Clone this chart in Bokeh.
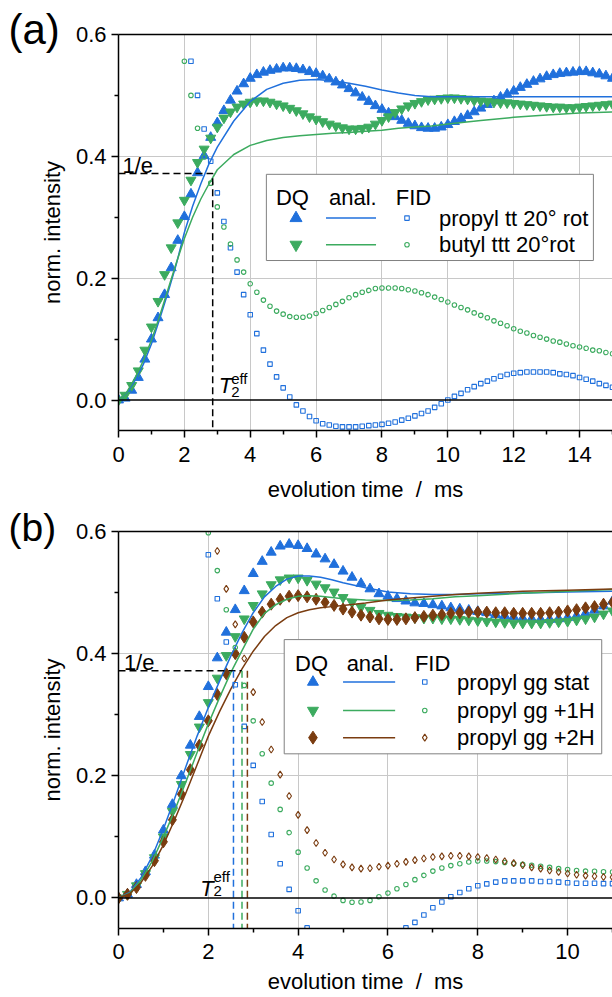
import numpy as np
from bokeh.plotting import figure
from bokeh.models import LinearAxis, FixedTicker, PrintfTickFormatter, Span, Label, Range1d
from bokeh.layouts import column
from bokeh.embed import file_html
from bokeh.resources import INLINE
from bokeh.core.properties import value

FONT = "Liberation Sans"
BLUE = "#2070dc"
GREEN = "#3cab5f"
BROWN = "#7a3c10"
GRID = "#c8c8c8"


def grid_times(start, stop, step=0.2):
    n = int(round((stop - start) / step)) + 1
    return [round(start + i * step, 1) for i in range(n)]


def arr(v):
    return np.array([np.nan if a is None else a for a in v], dtype=float)


# ---------------- panel (a) data ----------------
a_dq_t = grid_times(0.0, 15.0)
a_dq_propyl = [
    0.000, 0.003, 0.016, 0.037, 0.067, 0.100, 0.135, 0.173, 0.217, 0.262,
    0.301, 0.338, 0.373, 0.401, 0.431, 0.455, 0.475, 0.492, 0.507, 0.519,
    0.528, 0.534, 0.538, 0.541, 0.543, 0.545, 0.545, 0.544, 0.542, 0.539,
    0.536, 0.532, 0.527, 0.522, 0.517, 0.511, 0.504, 0.497, 0.490, 0.483,
    0.477, 0.471, 0.465, 0.459, 0.454, 0.450, 0.447, 0.446, 0.446, 0.448,
    0.452, 0.457, 0.462, 0.467, 0.473, 0.479, 0.485, 0.491, 0.497, 0.502,
    0.507, 0.513, 0.518, 0.523, 0.527, 0.531, 0.534, 0.536, 0.537, 0.538,
    0.539, 0.539, 0.537, 0.535, 0.532, 0.528]
a_dq_butyl = [
    0.000, 0.008, 0.024, 0.048, 0.082, 0.120, 0.162, 0.206, 0.250, 0.291,
    0.328, 0.361, 0.390, 0.412, 0.430, 0.448, 0.463, 0.473, 0.481, 0.486,
    0.489, 0.491, 0.491, 0.489, 0.486, 0.483, 0.479, 0.475, 0.470, 0.465,
    0.461, 0.457, 0.453, 0.450, 0.447, 0.445, 0.445, 0.446, 0.448, 0.453,
    0.459, 0.465, 0.472, 0.478, 0.483, 0.487, 0.490, 0.493, 0.494, 0.495,
    0.496, 0.496, 0.495, 0.494, 0.492, 0.491, 0.490, 0.489, 0.488, 0.488,
    0.487, 0.486, 0.485, 0.484, 0.483, 0.482, 0.481, 0.481, 0.480, 0.480,
    0.481, 0.482, 0.483, 0.484, 0.485, 0.486]

a_anal_t = [0, 0.25, 0.5, 0.75, 1, 1.25, 1.5, 1.75, 2, 2.25, 2.5, 2.75, 3, 3.5, 4, 4.5,
            5, 5.5, 6, 6.5, 7, 7.5, 8, 8.5, 9, 9.5, 10, 11, 12, 13, 14, 15]
a_anal_propyl = [0, 0.012, 0.032, 0.058, 0.092, 0.133, 0.176, 0.222, 0.275, 0.318, 0.355,
                 0.388, 0.415, 0.458, 0.490, 0.510, 0.520, 0.525, 0.526, 0.524, 0.520,
                 0.515, 0.509, 0.504, 0.500, 0.498, 0.498, 0.498, 0.498, 0.498, 0.498, 0.498]
a_anal_butyl = [0, 0.013, 0.036, 0.064, 0.098, 0.138, 0.181, 0.224, 0.265, 0.300, 0.330,
                0.355, 0.378, 0.403, 0.418, 0.426, 0.431, 0.434, 0.436, 0.438, 0.439,
                0.441, 0.443, 0.446, 0.448, 0.450, 0.453, 0.459, 0.464, 0.468, 0.471, 0.473]

a_fid_propyl_t = grid_times(2.2, 15.0)
a_fid_propyl = [
    0.556, 0.500, 0.445, 0.392, 0.340, 0.293, 0.250, 0.210, 0.173, 0.140,
    0.109, 0.082, 0.059, 0.038, 0.020, 0.005, -0.008, -0.018, -0.027, -0.034,
    -0.039, -0.041, -0.043, -0.044, -0.044, -0.044, -0.043, -0.042, -0.041, -0.040,
    -0.038, -0.036, -0.033, -0.030, -0.026, -0.022, -0.018, -0.012, -0.006, 0.000,
    0.006, 0.011, 0.017, 0.022, 0.027, 0.031, 0.035, 0.039, 0.042, 0.044,
    0.045, 0.046, 0.046, 0.046, 0.046, 0.045, 0.043, 0.042, 0.040, 0.037,
    0.034, 0.031, 0.027, 0.024, 0.021]
a_fid_butyl_t = grid_times(2.0, 15.0)
a_fid_butyl = [
    0.556, 0.500, 0.446, 0.399, 0.356, 0.317, 0.284, 0.256, 0.230, 0.210,
    0.191, 0.177, 0.164, 0.154, 0.146, 0.141, 0.137, 0.136, 0.136, 0.138,
    0.142, 0.147, 0.152, 0.157, 0.162, 0.168, 0.173, 0.177, 0.180, 0.183,
    0.184, 0.184, 0.184, 0.183, 0.181, 0.179, 0.176, 0.173, 0.169, 0.165,
    0.161, 0.156, 0.152, 0.148, 0.143, 0.139, 0.135, 0.130, 0.126, 0.122,
    0.117, 0.113, 0.110, 0.106, 0.103, 0.100, 0.097, 0.095, 0.092, 0.089,
    0.087, 0.085, 0.082, 0.081, 0.078, 0.076]
a_labels = ["propyl tt 20\u00b0 rot", "butyl ttt 20\u00b0rot"]
a_t2eff = 2.86

# ---------------- panel (b) data ----------------
b_dq_t = grid_times(0.0, 11.0)
b_dq_stat = [
    0.000, 0.006, 0.022, 0.043, 0.070, 0.111, 0.153, 0.200, 0.250, 0.297,
    0.346, 0.393, 0.435, 0.472, 0.503, 0.531, 0.551, 0.566, 0.576, 0.579,
    0.577, 0.572, 0.563, 0.555, 0.546, 0.535, 0.525, 0.515, 0.506, 0.498,
    0.494, 0.490, 0.486, 0.483, 0.482, 0.480, 0.478, 0.475, 0.473, 0.471,
    0.469, 0.467, 0.464, 0.462, 0.460, 0.458, 0.457, 0.456, 0.456, 0.457,
    0.459, 0.462, 0.466, 0.471, 0.478, 0.486]
b_dq_1h = [
    0.000, 0.006, 0.020, 0.040, 0.066, 0.100, 0.142, 0.186, 0.235, 0.280,
    0.320, 0.360, 0.397, 0.428, 0.457, 0.479, 0.498, 0.513, 0.521, 0.524,
    0.524, 0.520, 0.514, 0.508, 0.501, 0.492, 0.484, 0.476, 0.471, 0.466,
    0.463, 0.461, 0.460, 0.459, 0.458, 0.458, 0.457, 0.457, 0.456, 0.455,
    0.454, 0.453, 0.452, 0.451, 0.450, 0.450, 0.450, 0.450, 0.451, 0.452,
    0.453, 0.455, 0.457, 0.460, 0.465, 0.470]
b_dq_2h = [
    0.000, 0.006, 0.017, 0.037, 0.061, 0.092, 0.128, 0.170, 0.210, 0.250,
    0.290, 0.333, 0.367, 0.400, 0.427, 0.452, 0.468, 0.481, 0.489, 0.494,
    0.495, 0.493, 0.489, 0.484, 0.479, 0.473, 0.468, 0.463, 0.460, 0.457,
    0.456, 0.456, 0.457, 0.459, 0.461, 0.463, 0.464, 0.466, 0.467, 0.468,
    0.468, 0.468, 0.467, 0.467, 0.466, 0.466, 0.466, 0.466, 0.467, 0.468,
    0.470, 0.472, 0.475, 0.477, 0.481, 0.484]

b_anal_t = [0, 0.25, 0.5, 0.75, 1, 1.25, 1.5, 1.75, 2, 2.25, 2.5, 2.75, 3, 3.25, 3.5,
            3.75, 4, 4.25, 4.5, 4.75, 5, 5.5, 6, 6.5, 7, 7.5, 8, 9, 10, 11]
b_anal_stat = [0, 0.009, 0.033, 0.068, 0.113, 0.163, 0.215, 0.265, 0.312, 0.355, 0.396,
               0.434, 0.467, 0.493, 0.510, 0.522, 0.527, 0.527, 0.525, 0.521, 0.516,
               0.508, 0.501, 0.498, 0.497, 0.497, 0.498, 0.4995, 0.501, 0.502]
b_anal_1h = [0, 0.008, 0.029, 0.060, 0.100, 0.143, 0.190, 0.238, 0.285, 0.328, 0.369,
             0.405, 0.440, 0.466, 0.480, 0.489, 0.494, 0.495, 0.494, 0.492, 0.490,
             0.488, 0.487, 0.488, 0.490, 0.493, 0.495, 0.499, 0.502, 0.505]
b_anal_2h = [0, 0.007, 0.025, 0.052, 0.087, 0.128, 0.172, 0.218, 0.265, 0.305, 0.342,
             0.375, 0.404, 0.428, 0.446, 0.459, 0.467, 0.472, 0.475, 0.477, 0.479,
             0.483, 0.488, 0.491, 0.494, 0.497, 0.499, 0.502, 0.504, 0.506]

b_fid_stat_t = grid_times(2.0, 11.0)
b_fid_stat = [
    0.562, 0.490, 0.419, 0.349, 0.281, 0.217, 0.158, 0.104, 0.056, 0.014,
    -0.021, -0.049, None, None, None, None, None, None, None, None,
    None, None, -0.049, -0.040, -0.028, -0.016, -0.0065, 0.002, 0.009, 0.015,
    0.020, 0.023, 0.026, 0.028, 0.028, 0.028, 0.028, 0.027, 0.027, 0.026,
    0.025, 0.024, 0.024, 0.024, 0.0235, 0.0235]
b_fid_1h_t = grid_times(2.0, 11.0)
b_fid_1h = [
    0.598, 0.536, 0.472, 0.410, 0.348, 0.290, 0.236, 0.188, 0.145, 0.107,
    0.075, 0.049, 0.028, 0.013, 0.003, -0.004, -0.007, -0.0065, -0.004, 0.002,
    0.008, 0.015, 0.022, 0.030, 0.037, 0.044, 0.049, 0.053, 0.056, 0.059,
    0.0605, 0.0605, 0.0595, 0.058, 0.056, 0.055, 0.0535, 0.052, 0.050, 0.048,
    0.0465, 0.045, 0.044, 0.0437, 0.043, 0.0425]
b_fid_2h_t = grid_times(2.2, 11.0)
b_fid_2h = [
    0.568, 0.506, 0.448, 0.392, 0.337, 0.288, 0.243, 0.202, 0.167,
    0.136, 0.111, 0.090, 0.074, 0.063, 0.055, 0.050, 0.048, 0.0486, 0.051,
    0.053, 0.056, 0.059, 0.062, 0.0645, 0.067, 0.068, 0.069, 0.069, 0.068,
    0.067, 0.0655, 0.063, 0.060, 0.057, 0.0535, 0.050, 0.048, 0.045, 0.0425,
    0.040, 0.038, 0.0366, 0.0355, 0.0344, 0.034]
b_labels = ["propyl gg stat", "propyl gg +1H", "propyl gg +2H"]
b_t2eff = [2.56, 2.75, 2.87]

ONE_OVER_E_LEVEL = 0.372
Y_TICKS = [0.0, 0.2, 0.4, 0.6]
Y_MINOR = [-0.1, 0.1, 0.3, 0.5]


def make_panel(tag, tag_size, tag_standoff, xmax, xticks, xminor, height, top, bottom,
               label_standoff, tick_standoff):
    p = figure(width=612, height=height, x_range=Range1d(0, xmax), y_range=Range1d(-0.05, 0.6),
               output_backend="svg", toolbar_location=None, title=tag,
               min_border_left=118, min_border_right=0, min_border_top=top,
               min_border_bottom=bottom,
               x_axis_label="evolution time \u00a0/\u00a0 ms", y_axis_label="norm. intensity")
    p.outline_line_color = None
    p.title.align = "left"
    p.title.offset = -110
    p.title.text_font = FONT
    p.title.text_font_size = tag_size
    p.title.text_font_style = "normal"
    p.title.text_color = "black"
    p.title.vertical_align = "bottom"
    p.title.standoff = tag_standoff
    p.xaxis.ticker = FixedTicker(ticks=xticks, minor_ticks=xminor)
    p.yaxis.ticker = FixedTicker(ticks=Y_TICKS, minor_ticks=Y_MINOR)
    p.yaxis.formatter = PrintfTickFormatter(format="%.1f")
    p.xgrid.ticker = FixedTicker(ticks=xticks)
    p.ygrid.ticker = FixedTicker(ticks=[0.2, 0.4])
    for g in (p.xgrid, p.ygrid):
        g.grid_line_color = GRID
        g.grid_line_width = 1
    for ax in (p.xaxis, p.yaxis):
        ax.axis_line_width = 1.5
        ax.axis_line_color = "black"
        ax.major_tick_in = 0
        ax.major_tick_out = 7
        ax.minor_tick_in = 0
        ax.minor_tick_out = 4
        ax.major_tick_line_width = 1.5
        ax.minor_tick_line_width = 1.5
        ax.major_tick_line_color = "black"
        ax.minor_tick_line_color = "black"
        ax.major_label_text_font = FONT
        ax.major_label_text_font_size = "22px"
        ax.major_label_text_color = "black"
        ax.axis_label_text_font = FONT
        ax.axis_label_text_font_size = "22px"
        ax.axis_label_text_font_style = "normal"
        ax.axis_label_text_color = "black"
    p.xaxis.axis_label_standoff = label_standoff
    p.xaxis.major_label_standoff = tick_standoff
    p.yaxis.axis_label_standoff = 8
    p.yaxis.major_label_standoff = 5
    top_ax = LinearAxis(ticker=FixedTicker(ticks=[], minor_ticks=[]), axis_line_width=1.5,
                        axis_line_color="black", major_label_text_font_size="0px",
                        major_tick_out=0, minor_tick_out=0, major_label_standoff=0)
    p.add_layout(top_ax, "above")
    p.add_layout(Span(location=0, dimension="width", line_color="black", line_width=1.5))
    return p


def tri(p, x, y, color, marker, size):
    p.scatter(x=x, y=y, marker=marker, size=size, fill_color=color, line_color=color)


def fid(p, x, y, color, marker, size):
    p.scatter(x=x, y=y, marker=marker, size=size, fill_color=None, line_color=color, line_width=1.1)


def text(p, x, y, s, size="22px", style="normal", baseline="alphabetic", align="left"):
    p.add_layout(Label(x=x, y=y, text=s, text_font=FONT, text_font_size=size,
                       text_font_style=style, text_baseline=baseline, text_align=align,
                       text_color="black"))


# ================= panel (a) =================
pa = make_panel("(a)", "42px", -36, 15, list(range(0, 15, 2)), list(range(1, 16, 2)),
                504, 34, 72, 12, 9)
tri(pa, a_dq_t, a_dq_propyl, BLUE, "triangle", 10)
tri(pa, a_dq_t, a_dq_butyl, GREEN, "inverted_triangle", 10)
pa.line(a_anal_t, a_anal_propyl, line_color=BLUE, line_width=1.5)
pa.line(a_anal_t, a_anal_butyl, line_color=GREEN, line_width=1.5)
fid(pa, a_fid_propyl_t, a_fid_propyl, BLUE, "square", 4.5)
fid(pa, a_fid_butyl_t, a_fid_butyl, GREEN, "circle", 4.5)
pa.line([0, a_t2eff, a_t2eff], [ONE_OVER_E_LEVEL, ONE_OVER_E_LEVEL, -0.05],
        line_color="black", line_width=1.5, line_dash="7 4")
text(pa, 0.12, 0.385, "1/e")
text(pa, 3.046, 0.0233, "T", style="italic")
text(pa, 3.42, 0.0347, "eff", size="15px")
text(pa, 3.42, 0.0135, "2", size="15px")
# legend (a)
pa.quad(left=[4.49], right=[14.42], bottom=[0.229], top=[0.3705],
        fill_color="white", line_color="#808080", line_width=1)
text(pa, 4.78, 0.333, "DQ")
text(pa, 6.39, 0.333, "anal.")
text(pa, 8.42, 0.333, "FID")
rows_a = [0.2986, 0.255]
tri(pa, [5.39], [rows_a[0]], BLUE, "triangle", 12)
tri(pa, [5.39], [rows_a[1]], GREEN, "inverted_triangle", 12)
pa.segment(x0=[6.3, 6.3], y0=rows_a, x1=[7.82, 7.82], y1=rows_a,
           line_color=[BLUE, GREEN], line_width=1.5)
fid(pa, [8.76], [rows_a[0]], BLUE, "square", 4.5)
fid(pa, [8.76], [rows_a[1]], GREEN, "circle", 4.5)
for yy, lab in zip(rows_a, a_labels):
    text(pa, 9.73, yy, lab, baseline="middle")

# ================= panel (b) =================
pb = make_panel("(b)", "39px", -34, 11, list(range(0, 11, 2)), list(range(1, 12, 2)),
                493, 27, 69, 7, 8)
tri(pb, b_dq_t, b_dq_stat, BLUE, "triangle", 10)
tri(pb, b_dq_t, b_dq_1h, GREEN, "inverted_triangle", 10)
tri(pb, b_dq_t, b_dq_2h, BROWN, "diamond", 12)
pb.line(b_anal_t, b_anal_stat, line_color=BLUE, line_width=1.5)
pb.line(b_anal_t, b_anal_1h, line_color=GREEN, line_width=1.5)
pb.line(b_anal_t, b_anal_2h, line_color=BROWN, line_width=1.5)
fid(pb, b_fid_stat_t, arr(b_fid_stat), BLUE, "square", 4.5)
fid(pb, b_fid_1h_t, b_fid_1h, GREEN, "circle", 4.5)
fid(pb, b_fid_2h_t, b_fid_2h, BROWN, "diamond", 7)
pb.line([0, 2.75], [ONE_OVER_E_LEVEL, ONE_OVER_E_LEVEL], line_color="black",
        line_width=1.5, line_dash="7 4")
for tt, col in zip(b_t2eff, [BLUE, GREEN, BROWN]):
    pb.line([tt, tt], [ONE_OVER_E_LEVEL, -0.05], line_color=col, line_width=1.5, line_dash="7 4")
text(pb, 0.12, 0.386, "1/e")
text(pb, 1.822, 0.0154, "T", style="italic")
text(pb, 2.114, 0.0344, "eff", size="15px")
text(pb, 2.114, 0.0115, "2", size="15px")
# legend (b)
pb.quad(left=[3.69], right=[10.76], bottom=[0.236], top=[0.423],
        fill_color="white", line_color="#808080", line_width=1)
text(pb, 3.93, 0.384, "DQ")
text(pb, 5.08, 0.384, "anal.")
text(pb, 6.60, 0.384, "FID")
rows_b = [0.3535, 0.307, 0.2625]
tri(pb, [4.33], [rows_b[0]], BLUE, "triangle", 11)
tri(pb, [4.33], [rows_b[1]], GREEN, "inverted_triangle", 11)
tri(pb, [4.33], [rows_b[2]], BROWN, "diamond", 13)
pb.segment(x0=[5.0] * 3, y0=rows_b, x1=[6.16] * 3, y1=rows_b,
           line_color=[BLUE, GREEN, BROWN], line_width=1.5)
fid(pb, [6.82], [rows_b[0]], BLUE, "square", 4.5)
fid(pb, [6.82], [rows_b[1]], GREEN, "circle", 4.5)
fid(pb, [6.82], [rows_b[2]], BROWN, "diamond", 7)
for yy, lab in zip(rows_b, b_labels):
    text(pb, 7.54, yy, lab, baseline="middle")

layout = column(pa, pb, spacing=0)
open("out.html", "w").write(file_html(layout, INLINE))
